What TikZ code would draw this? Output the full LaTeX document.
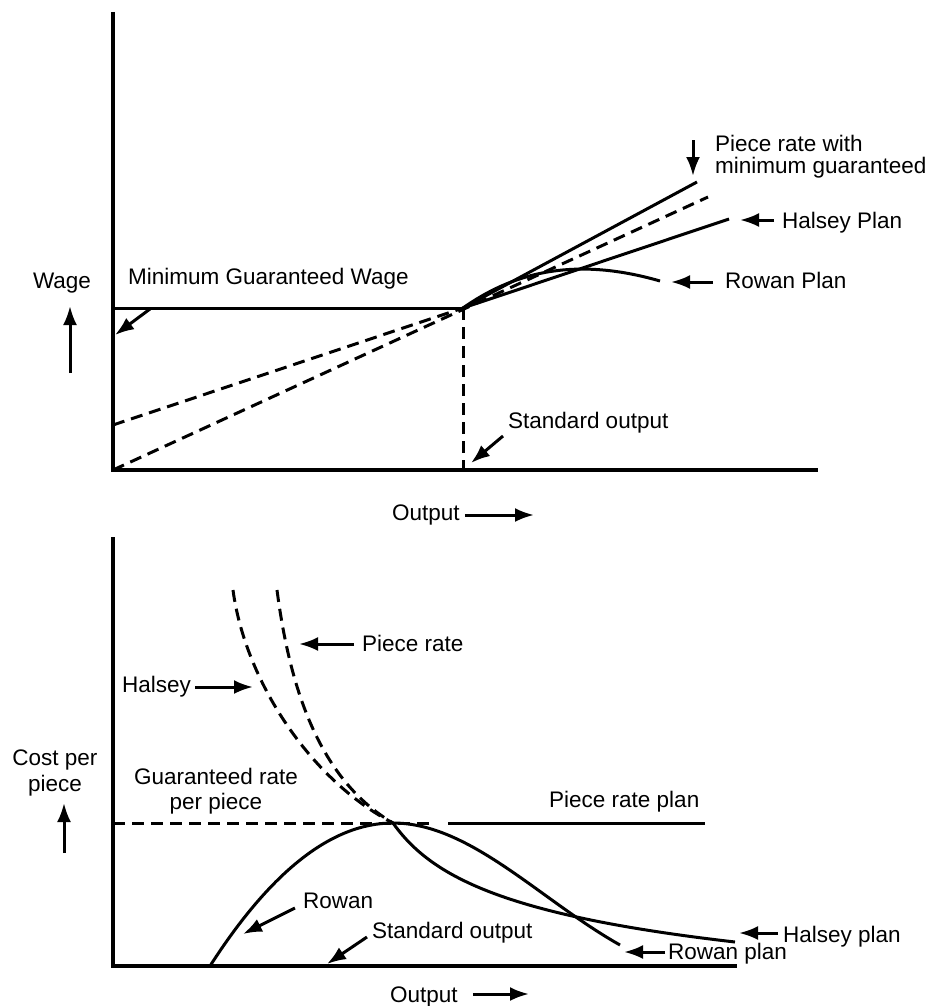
\documentclass[tikz,border=0pt]{standalone}
\usepackage{fontspec}
\setmainfont{Liberation Sans}
\usetikzlibrary{arrows.meta}

\tikzset{
  axis/.style = {line width=3.4pt, line join=miter},
  curve/.style = {line width=3pt},
  dashcurve/.style = {curve, dash pattern=on 12pt off 7pt},
  pointer/.style = {line width=3pt, -{Latex[length=19pt,width=14pt]}},
  lbl/.style = {inner sep=0pt, anchor=base west,
    font=\fontsize{22.5}{24}\selectfont}
}

\begin{document}
\begin{tikzpicture}[x=1pt,y=-1pt]
  \useasboundingbox (0,0) rectangle (942,1006);

  % wage against output
  \draw[axis] (113,12) -- (113,470) -- (818,470);
  \coordinate (stdpt) at (463,308);
  \draw[curve] (113,308) -- (stdpt);
  \draw[dashcurve] (stdpt) -- (463,470);
  \draw[dashcurve] (113,470) -- (708,197);
  \draw[dashcurve] (113,425) -- (stdpt);
  \draw[curve] (stdpt) -- (697,182);
  \draw[curve] (stdpt) -- (729,219);
  \draw[curve] (stdpt) .. controls (510,275) and (570,255) .. (660,281);

  \node[lbl, anchor=base] (wage) at (62,288) {Wage};
  \coordinate (wagetail) at (70,373);
  \coordinate (wagetip) at (70,306);
  \draw[pointer] (wagetail) -- (wagetip);

  \node[lbl] (minwage) at (128,284) {Minimum Guaranteed Wage};
  \coordinate (minwagetail) at (150,309);
  \coordinate (minwagetip) at (115,335);
  \draw[pointer] (minwagetail) -- (minwagetip);

  \node[lbl, anchor=north west, align=left,
    font=\fontsize{22.5}{22}\selectfont] (pieceminlbl) at (715,135)
    {Piece rate with\\minimum guaranteed};
  \coordinate (piecemintail) at (693,140);
  \coordinate (piecemintip) at (693,176);
  \draw[pointer] (piecemintail) -- (piecemintip);

  \node[lbl] (halseylbl) at (782,228) {Halsey Plan};
  \coordinate (halseytip) at (740,220);
  \draw[pointer] ([xshift=-8pt]halseylbl.west |- halseytip) -- (halseytip);

  \node[lbl] (rowanlbl) at (725,288) {Rowan Plan};
  \coordinate (rowantip) at (671,282);
  \draw[pointer] ([xshift=-12pt]rowanlbl.west |- rowantip) -- (rowantip);

  \node[lbl] (stdlbl) at (508,428) {Standard output};
  \coordinate (stdtail) at (503,436);
  \coordinate (stdtip) at (471,463);
  \draw[pointer] (stdtail) -- (stdtip);

  \node[lbl] (outlbl) at (392,520) {Output};
  \coordinate (outtip) at (534,515);
  \draw[pointer] ([xshift=5pt]outlbl.east |- outtip) -- (outtip);

  % cost per piece against output
  \draw[axis] (113,537) -- (113,966) -- (737,966);
  \coordinate (peak) at (393,823);
  \draw[dashcurve] (113,823) -- (435,823);
  \draw[curve] (448,823) -- (705,823);
  \draw[dashcurve] (233,590) .. controls (245,680) and (310,780) .. (peak);
  \draw[dashcurve] (277,590) .. controls (290,690) and (320,780) .. (peak);
  \draw[curve] (210,966) .. controls (271,871) and (332,823) .. (peak)
    .. controls (470,823) and (540,900) .. (620,945);
  \draw[curve] (peak) .. controls (430,875) and (500,915) .. (735,942);

  \node[lbl] (piecelbl) at (362,651) {Piece rate};
  \coordinate (piecetip) at (299,644);
  \draw[pointer] ([xshift=-8pt]piecelbl.west |- piecetip) -- (piecetip);

  \node[lbl] (halseyc) at (122,692) {Halsey};
  \coordinate (halseyctip) at (253,687);
  \draw[pointer] ([xshift=4pt]halseyc.east |- halseyctip) -- (halseyctip);

  \node[lbl, anchor=north, align=center,
    font=\fontsize{22.5}{26}\selectfont] (costlbl) at (55,750)
    {Cost per\\piece};
  \coordinate (costtail) at (64,853);
  \coordinate (costtip) at (64,803);
  \draw[pointer] (costtail) -- (costtip);

  \node[lbl, anchor=north, align=center,
    font=\fontsize{22.5}{25}\selectfont] (guarlbl) at (216,768)
    {Guaranteed rate\\per piece};

  \node[lbl] (planlbl) at (549,807) {Piece rate plan};

  \node[lbl] (rowanc) at (303,908) {Rowan};
  \coordinate (rowanctail) at (295,908);
  \coordinate (rowanctip) at (243,934);
  \draw[pointer] (rowanctail) -- (rowanctip);

  \node[lbl] (stdclbl) at (372,938) {Standard output};
  \coordinate (stdctail) at (367,937);
  \coordinate (stdctip) at (327,964);
  \draw[pointer] (stdctail) -- (stdctip);

  \node[lbl] (halseyplan) at (783,942) {Halsey plan};
  \coordinate (halseyplantip) at (739,933);
  \draw[pointer] ([xshift=-5pt]halseyplan.west |- halseyplantip) -- (halseyplantip);

  \node[lbl] (rowanplan) at (668,959) {Rowan plan};
  \coordinate (rowanplantip) at (624,952);
  \draw[pointer] ([xshift=-3pt]rowanplan.west |- rowanplantip) -- (rowanplantip);

  \node[lbl] (outclbl) at (390,1002) {Output};
  \coordinate (outctip) at (529,994);
  \draw[pointer] ([xshift=15pt]outclbl.east |- outctip) -- (outctip);
\end{tikzpicture}
\end{document}
